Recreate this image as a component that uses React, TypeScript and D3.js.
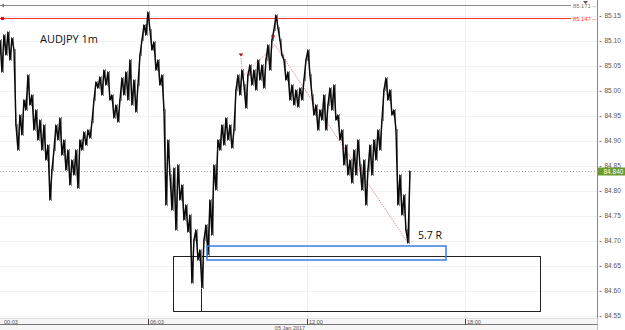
import React from "react";
import * as d3 from "d3";

const PRICES: number[] = [
  85.102, 85.038, 85.112, 85.072, 85.118, 85.062, 85.106, 85.082, 84.932, 84.882,
  84.952, 84.912, 84.982, 84.962, 85.032, 84.972, 84.992, 84.922, 84.962, 84.902,
  84.942, 84.882, 84.932, 84.862, 84.892, 84.782, 84.842, 84.882, 84.932, 84.902,
  84.946, 84.872, 84.902, 84.842, 84.882, 84.812, 84.862, 84.832, 84.882, 84.806,
  84.902, 84.882, 84.918, 84.892, 84.922, 84.906, 84.938, 84.982, 85.018, 85.006,
  85.028, 84.992, 85.042, 85.012, 85.038, 84.982, 84.992, 84.946, 84.972, 84.938,
  84.982, 85.026, 84.992, 85.038, 84.982, 85.062, 84.972, 85.022, 84.958, 85.012,
  85.072, 85.102, 85.132, 85.112, 85.158, 85.122, 85.082, 85.098, 85.042, 85.062,
  85.012, 85.032, 84.962, 84.772, 84.902, 84.832, 84.762, 84.846, 84.722, 84.852,
  84.782, 84.812, 84.742, 84.772, 84.718, 84.752, 84.616, 84.702, 84.722, 84.662,
  84.682, 84.606, 84.702, 84.732, 84.672, 84.782, 84.712, 84.852, 84.802, 84.902,
  84.882, 84.932, 84.892, 84.946, 84.902, 84.932, 84.886, 84.922, 85.002, 85.032,
  84.992, 85.042, 85.012, 84.966, 85.032, 85.052, 85.012, 85.042, 85.002, 85.062,
  85.022, 85.052, 85.006, 85.062, 85.092, 85.042, 85.102, 85.122, 85.152, 85.126,
  85.102, 85.072, 85.062, 85.022, 85.038, 84.982, 85.012, 84.972, 85.002, 84.968,
  85.006, 84.982, 85.022, 85.062, 85.082, 85.032, 84.992, 84.952, 84.972, 84.922,
  84.962, 84.942, 84.992, 84.922, 84.972, 85.006, 84.962, 85.012, 84.942, 84.952,
  84.902, 84.922, 84.852, 84.892, 84.832, 84.862, 84.816, 84.882, 84.832, 84.902,
  84.852, 84.802, 84.862, 84.772, 84.842, 84.892, 84.832, 84.902, 84.862, 84.922,
  84.882, 84.942, 85.002, 85.026, 84.982, 85.002, 84.952, 84.962, 84.922, 84.772,
  84.832, 84.752, 84.792, 84.722, 84.696, 84.840,
];

const PRICE_TICKS = [85.15, 85.1, 85.05, 85.0, 84.95, 84.9, 84.85, 84.8, 84.75, 84.7, 84.65, 84.6, 84.55];
const TIME_LABELS = ["00:03", "06:03", "12:00", "18:00"];
const TIME_INDEX = [1, 74, 153.5, 232.5];
const DATE_LABEL = "05 Jan 2017";
const LAST_PRICE = 84.84;
const LEVEL_GRAY = 85.171;
const LEVEL_RED = 85.147;
const BOX_INDEX = [86.5, 270];
const BOX_PRICE = [84.67, 84.56];
const DIVIDER_INDEX = 100.5;
const ENTRY_INDEX = [103.5, 223];
const ENTRY_PRICE = [84.69, 84.662];
const PATTERN_A_INDEX = [120.5, 122.5];
const PATTERN_A_PRICE = [85.066, 84.986];
const PATTERN_B_INDEX = [121, 137.5, 204];
const PATTERN_B_PRICE = [85.028, 85.092, 84.696];
const MARKER_INDEX = [120.5, 136.5];
const MARKER_PRICE = [85.072, 85.108];
const TITLE = "AUDJPY 1m";
const R_LABEL = "5.7 R";
const R_INDEX = 209;
const R_PRICE = 84.704;

const W = 625;
const H = 330;
const AXIS_X = 597.5;
const AXIS_Y = 318;

export default function App() {
  const x = d3.scaleLinear().domain([0, PRICES.length - 1]).range([0, 410]);
  const y = d3.scaleLinear().domain([84.55, 85.15]).range([316, 16]);
  const crisp = (v: number) => Math.round(v) + 0.5;
  const line = d3
    .line<number>()
    .x((_, i) => x(i))
    .y((d) => y(d));
  const pathA = d3.line<number>().x((d) => x(d)).y((_, i) => y(PATTERN_A_PRICE[i]));
  const pathB = d3.line<number>().x((d) => x(d)).y((_, i) => y(PATTERN_B_PRICE[i]));
  const small = { fontFamily: "'Liberation Sans', Arial, sans-serif", fontSize: 6.5 };
  const bars = PRICES.map((p, i) => {
    const prev = i > 0 ? PRICES[i - 1] : p;
    const lo = Math.min(prev, p);
    const hi = Math.max(prev, p);
    return { i, lo, hi };
  });

  return (
    <svg
      width={W}
      height={H}
      style={{ position: "absolute", left: 0, top: 0, background: "#fff" }}
    >
      {/* grid */}
      {PRICE_TICKS.map((t) => (
        <line key={"g" + t} x1={0} x2={AXIS_X} y1={crisp(y(t))} y2={crisp(y(t))} stroke="#f1f1f1" strokeWidth={1} />
      ))}
      {TIME_INDEX.slice(1).map((t) => (
        <line key={"v" + t} x1={crisp(x(t))} x2={crisp(x(t))} y1={0} y2={AXIS_Y} stroke="#f1f1f1" strokeWidth={1} />
      ))}

      {/* level lines */}
      <line x1={0} x2={571} y1={crisp(y(LEVEL_GRAY))} y2={crisp(y(LEVEL_GRAY))} stroke="#8a8a8a" strokeWidth={1} />
      <path d={`M${1},${crisp(y(LEVEL_GRAY))} l3,-2 v4 z`} fill="#777" />
      <text x={573} y={crisp(y(LEVEL_GRAY)) + 2} fill="#777" style={{ ...small, fontSize: 5.8 }}>{LEVEL_GRAY.toFixed(3)}</text>
      <text x={591} y={crisp(y(LEVEL_GRAY)) + 2} fill="#555" style={{ ...small, fontSize: 6 }}>→</text>

      <line x1={0} x2={571} y1={crisp(y(LEVEL_RED))} y2={crisp(y(LEVEL_RED))} stroke="#ff3535" strokeWidth={1} />
      <rect x={1} y={crisp(y(LEVEL_RED)) - 1.5} width={3} height={3} fill="#e00" />
      <text x={573} y={crisp(y(LEVEL_RED)) + 2} fill="#ff3535" style={{ ...small, fontSize: 5.8 }}>{LEVEL_RED.toFixed(3)}</text>
      <text x={591} y={crisp(y(LEVEL_RED)) + 2} fill="#e00" style={{ ...small, fontSize: 6 }}>→</text>

      {/* last price dotted line */}
      <line x1={0} x2={AXIS_X} y1={crisp(y(LAST_PRICE))} y2={crisp(y(LAST_PRICE))} stroke="#999" strokeWidth={1} strokeDasharray="1,2" />

      {/* zone boxes */}
      <rect
        x={crisp(x(BOX_INDEX[0]))}
        y={crisp(y(BOX_PRICE[0]))}
        width={Math.round(x(BOX_INDEX[1]) - x(BOX_INDEX[0]))}
        height={Math.round(y(BOX_PRICE[1]) - y(BOX_PRICE[0]))}
        fill="none"
        stroke="#222"
        strokeWidth={1}
      />
      <line x1={crisp(x(DIVIDER_INDEX))} x2={crisp(x(DIVIDER_INDEX))} y1={y(BOX_PRICE[0])} y2={y(BOX_PRICE[1])} stroke="#222" strokeWidth={1} />

      {/* pattern dotted lines */}
      <path d={pathA(PATTERN_A_INDEX) || ""} fill="none" stroke="#e07070" strokeWidth={0.8} strokeDasharray="1.5,1" />
      <path d={pathB(PATTERN_B_INDEX) || ""} fill="none" stroke="#e07070" strokeWidth={0.8} strokeDasharray="1.5,1" />

      {/* price */}
      {bars.map((b) => (
        <line
          key={"b" + b.i}
          x1={x(b.i) - 0.5}
          x2={x(b.i) - 0.5}
          y1={y(b.hi) - 1}
          y2={y(b.lo) + 1}
          stroke="#888"
          strokeWidth={1}
        />
      ))}
      <path d={line(PRICES) || ""} fill="none" stroke="#0a0a0a" strokeWidth={1.5} strokeLinejoin="miter" />

      <rect
        x={x(ENTRY_INDEX[0])}
        y={y(ENTRY_PRICE[0])}
        width={x(ENTRY_INDEX[1]) - x(ENTRY_INDEX[0])}
        height={y(ENTRY_PRICE[1]) - y(ENTRY_PRICE[0])}
        fill="none"
        stroke="#3b7ddd"
        strokeWidth={1.5}
      />

      {MARKER_INDEX.map((m, i) => (
        <path
          key={"m" + i}
          d={`M${x(m) - 2.5},${y(MARKER_PRICE[i]) - 1.5} h5 l-2.5,3 z`}
          fill="#b01010"
        />
      ))}

      {/* texts */}
      <text x={40} y={43} fill="#111" style={{ fontFamily: "'Open Sans', 'DejaVu Sans', sans-serif", fontSize: 11 }}>{TITLE}</text>
      <text x={x(R_INDEX)} y={y(R_PRICE)} fill="#111" style={{ fontFamily: "'Open Sans', 'DejaVu Sans', sans-serif", fontSize: 10.5 }}>{R_LABEL}</text>

      {/* right axis */}
      <rect x={AXIS_X} y={0} width={W - AXIS_X} height={H} fill="#fff" />
      <line x1={AXIS_X} x2={AXIS_X} y1={0} y2={H} stroke="#888" strokeWidth={1} />
      {PRICE_TICKS.map((t) => (
        <g key={"t" + t}>
          <line x1={AXIS_X + 2} x2={AXIS_X + 4} y1={crisp(y(t))} y2={crisp(y(t))} stroke="#777" />
          <text x={AXIS_X + 7} y={y(t) + 2.2} fill="#555" style={small}>{t.toFixed(2)}</text>
        </g>
      ))}
      <rect x={AXIS_X + 0.5} y={y(LAST_PRICE) - 3.5} width={W - AXIS_X} height={8} fill="#6b9a2d" />
      <text x={AXIS_X + 6} y={y(LAST_PRICE) + 2.8} fill="#fff" style={small}>{LAST_PRICE.toFixed(3)}</text>
      <path d={`M${583},1 h5 l-2.5,3 z`} fill="#555" />

      {/* bottom axis */}
      <rect x={0} y={AXIS_Y} width={AXIS_X} height={H - AXIS_Y} fill="#f6f6f6" />
      <line x1={0} x2={AXIS_X} y1={AXIS_Y + 0.5} y2={AXIS_Y + 0.5} stroke="#ddd" />
      <line x1={0} x2={AXIS_X} y1={324.5} y2={324.5} stroke="#777" />
      {TIME_INDEX.map((t, i) => (
        <g key={"x" + i}>
          {i > 0 && <line x1={crisp(x(t))} x2={crisp(x(t))} y1={AXIS_Y + 1} y2={325} stroke="#444" />}
          <text x={x(t) + 2} y={323.5} fill="#555" style={{ ...small, fontSize: 5.5 }}>{TIME_LABELS[i]}</text>
        </g>
      ))}
      <text x={290} y={329.5} textAnchor="middle" fill="#555" style={{ ...small, fontSize: 5.5 }}>{DATE_LABEL}</text>
    </svg>
  );
}
